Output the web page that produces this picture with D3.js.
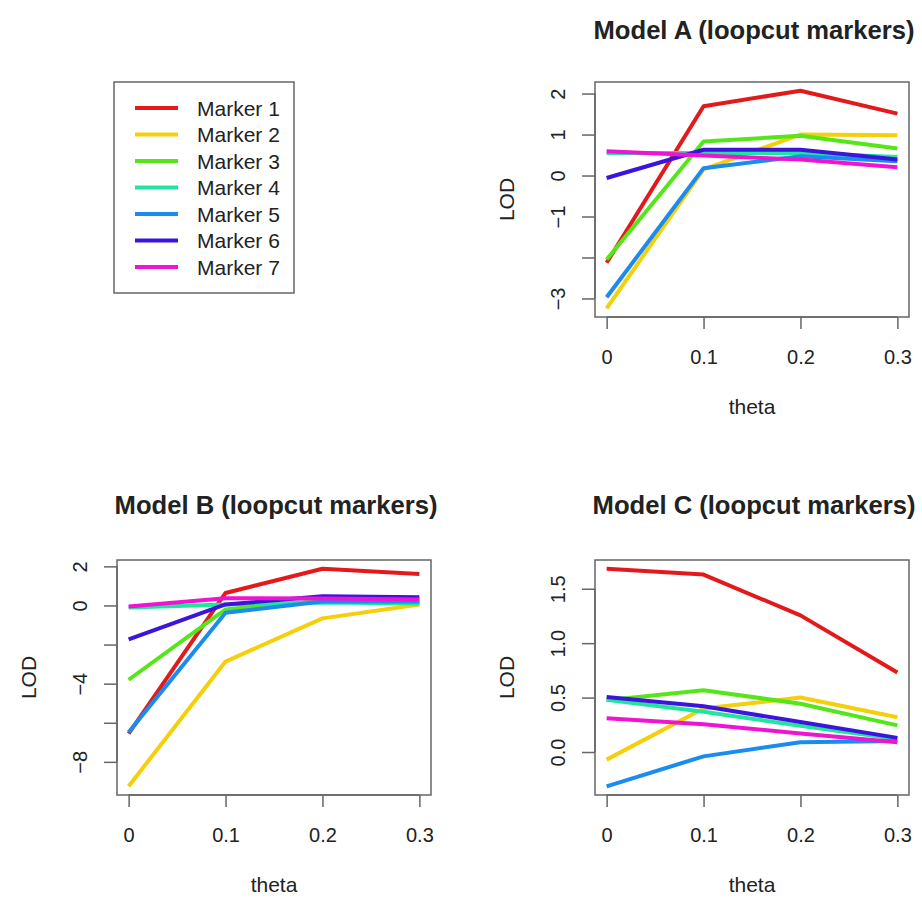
<!DOCTYPE html>
<html>
<head>
<meta charset="utf-8">
<script src="https://cdn.jsdelivr.net/npm/d3@7"></script>
<style>
  body { margin: 0; background: #fff; }
  svg text { font-family: "Liberation Sans", Arial, sans-serif; fill: #222; }
</style>
</head>
<body>
<script>
// ---- data ----
var theta = [0, 0.1, 0.2, 0.3];
var markerNames = ["Marker 1", "Marker 2", "Marker 3", "Marker 4", "Marker 5", "Marker 6", "Marker 7"];
var markerColors = ["#e31a1c", "#f5cf0a", "#55e61a", "#1ee69a", "#1a8cf0", "#3c14dc", "#f014d2"];

var modelA = [
  [-2.13, 1.69, 2.07, 1.51],
  [-3.24, 0.15, 1.00, 0.98],
  [-2.05, 0.83, 0.97, 0.66],
  [0.55, 0.55, 0.55, 0.45],
  [-2.97, 0.18, 0.47, 0.35],
  [-0.06, 0.63, 0.63, 0.39],
  [0.59, 0.49, 0.39, 0.20]
];
var modelB = [
  [-6.56, 0.64, 1.88, 1.61],
  [-9.25, -2.87, -0.66, 0.05],
  [-3.80, -0.20, 0.25, 0.10],
  [-0.10, 0.05, 0.15, 0.10],
  [-6.48, -0.37, 0.20, 0.20],
  [-1.73, 0.05, 0.47, 0.42],
  [-0.05, 0.37, 0.35, 0.30]
];
var modelC = [
  [1.684, 1.63, 1.255, 0.73],
  [-0.07, 0.40, 0.50, 0.32],
  [0.475, 0.567, 0.444, 0.245],
  [0.48, 0.37, 0.24, 0.12],
  [-0.315, -0.04, 0.09, 0.10],
  [0.505, 0.42, 0.275, 0.13],
  [0.31, 0.255, 0.17, 0.09]
];

var xTicks = [0, 0.1, 0.2, 0.3];
var xTickLabels = ["0", "0.1", "0.2", "0.3"];
var yTicksA = [-3, -2, -1, 0, 1, 2];
var yTickLabelsA = ["\u22123", "", "\u22121", "0", "1", "2"];
var yTicksB = [-8, -6, -4, -2, 0, 2];
var yTickLabelsB = ["\u22128", "", "\u22124", "", "0", "2"];
var yTicksC = [0, 0.5, 1, 1.5];
var yTickLabelsC = ["0.0", "0.5", "1.0", "1.5"];

var titles = ["Model A (loopcut markers)", "Model B (loopcut markers)", "Model C (loopcut markers)"];

// ---- layout ----
var W = 922, H = 898;
var pw = 314, ph = 235;
var panels = [
  { left: 595, top: 82, titleY: -43, series: modelA, yt: yTicksA, yl: yTickLabelsA, title: titles[0] },
  { left: 117, top: 560, titleY: -46, series: modelB, yt: yTicksB, yl: yTickLabelsB, title: titles[1] },
  { left: 595, top: 560, titleY: -46, series: modelC, yt: yTicksC, yl: yTickLabelsC, title: titles[2] }
];

var svg = d3.select("body").append("svg")
    .attr("width", W)
    .attr("height", H);

// R style 4% padding of the data range
function rRange(ext) {
  var d = (ext[1] - ext[0]) * 0.04;
  return [ext[0] - d, ext[1] + d];
}

panels.forEach(function(p) {
  var g = svg.append("g").attr("transform", "translate(" + p.left + "," + p.top + ")");

  var x = d3.scaleLinear().domain(rRange(d3.extent(theta))).range([0, pw]);
  var y = d3.scaleLinear().domain(rRange(d3.extent(d3.merge(p.series)))).range([ph, 0]);

  var line = d3.line()
      .x(function(d, i) { return x(theta[i]); })
      .y(function(d) { return y(d); });

  g.selectAll("path.series").data(p.series).enter()
      .append("path")
      .attr("class", "series")
      .attr("d", line)
      .attr("fill", "none")
      .attr("stroke", function(d, i) { return markerColors[i]; })
      .attr("stroke-width", 4)
      .attr("stroke-linejoin", "round");

  g.append("rect")
      .attr("width", pw)
      .attr("height", ph)
      .attr("fill", "none")
      .attr("stroke", "#666")
      .attr("stroke-width", 1.5);

  // x axis
  var xAxis = d3.axisBottom(x)
      .tickValues(xTicks)
      .tickSize(12)
      .tickPadding(0)
      .tickFormat(function(d, i) { return xTickLabels[i]; });
  var gx = g.append("g").attr("transform", "translate(0," + ph + ")").call(xAxis);
  gx.select(".domain").attr("d", "M" + x(xTicks[0]) + ",0H" + x(xTicks[xTicks.length - 1]));
  gx.selectAll("line, .domain").attr("stroke", "#666").attr("stroke-width", 1.5);
  gx.selectAll("text").attr("font-size", 20).attr("dy", null).attr("y", 47);

  // y axis
  var yAxis = d3.axisLeft(y)
      .tickValues(p.yt)
      .tickSize(13)
      .tickFormat(function(d, i) { return p.yl[i]; });
  var gy = g.append("g").call(yAxis);
  gy.select(".domain").attr("d", "M0," + y(p.yt[0]) + "V" + y(p.yt[p.yt.length - 1]));
  gy.selectAll("line, .domain").attr("stroke", "#666").attr("stroke-width", 1.5);
  gy.selectAll(".tick text")
      .attr("font-size", 20)
      .attr("x", null).attr("dy", null)
      .attr("text-anchor", "middle")
      .attr("transform", "translate(-30,0) rotate(-90)");

  g.append("text")
      .attr("x", pw / 2)
      .attr("y", ph + 97)
      .attr("text-anchor", "middle")
      .attr("font-size", 21)
      .text("theta");

  g.append("text")
      .attr("transform", "translate(-81," + (ph / 2) + ") rotate(-90)")
      .attr("text-anchor", "middle")
      .attr("font-size", 21)
      .text("LOD");

  g.append("text")
      .attr("x", pw / 2 + 2)
      .attr("y", p.titleY)
      .attr("text-anchor", "middle")
      .attr("font-size", 25.6)
      .attr("font-weight", "bold")
      .text(p.title);
});

// ---- legend ----
var legend = svg.append("g").attr("transform", "translate(114,82)");
legend.append("rect")
    .attr("width", 180)
    .attr("height", 211)
    .attr("fill", "none")
    .attr("stroke", "#666")
    .attr("stroke-width", 1.5);

var rowY = d3.scalePoint().domain(markerNames).range([26, 185]);

var rows = legend.selectAll("g.row").data(markerNames).enter()
    .append("g")
    .attr("class", "row")
    .attr("transform", function(d) { return "translate(0," + rowY(d) + ")"; });

rows.append("line")
    .attr("x1", 21).attr("x2", 64)
    .attr("stroke", function(d, i) { return markerColors[i]; })
    .attr("stroke-width", 4);

rows.append("text")
    .attr("x", 83)
    .attr("dy", "0.36em")
    .attr("font-size", 21)
    .text(function(d) { return d; });
</script>
</body>
</html>
